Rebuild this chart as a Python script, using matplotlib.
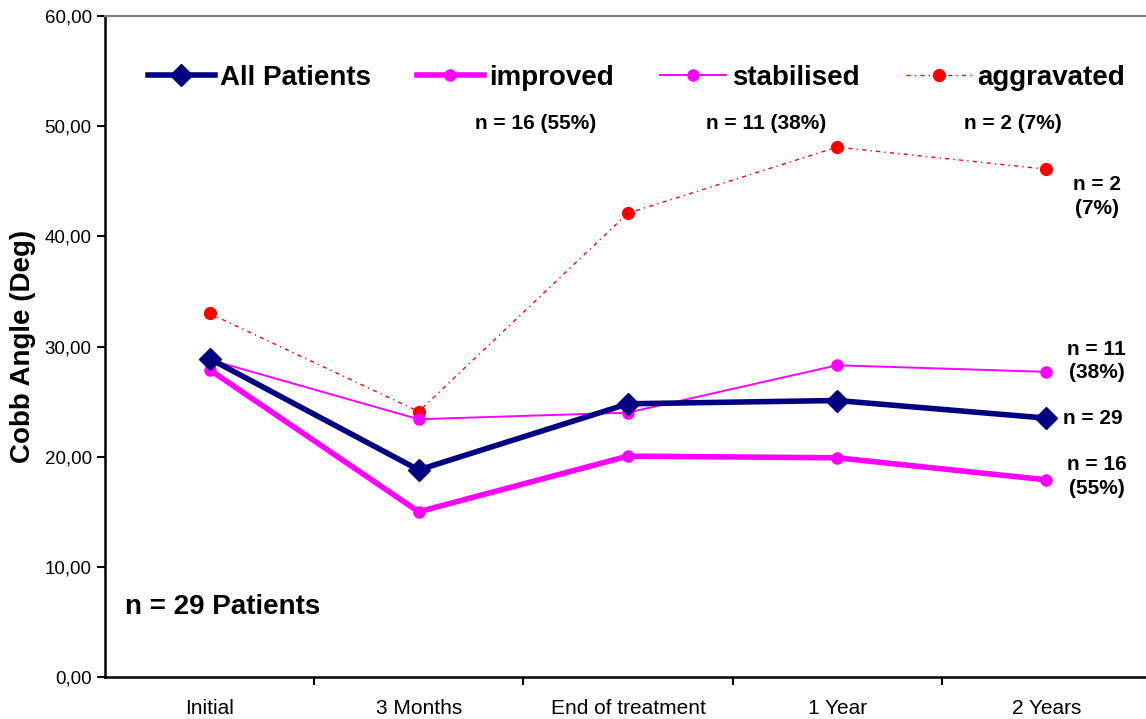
import matplotlib.pyplot as plt
from matplotlib.ticker import FixedLocator, FuncFormatter

plt.rcParams['font.family'] = ['Liberation Sans', 'DejaVu Sans']

# data
stages = ["Initial", "3 Months", "End of treatment", "1 Year", "2 Years"]
all_patients = [28.9, 18.8, 24.8, 25.1, 23.5]
improved = [27.9, 15.0, 20.05, 19.9, 17.9]
stabilised = [28.8, 23.4, 24.0, 28.3, 27.7]
aggravated = [33.0, 24.1, 42.1, 48.1, 46.1]

group_labels = ["n = 16 (55%)", "n = 11 (38%)", "n = 2 (7%)"]

fig = plt.figure(figsize=(11.46, 7.19), dpi=100)
ax = fig.add_axes([0.0916, 0.0584, 0.9127, 0.9193])

x = list(range(len(stages)))
ax.plot(x, all_patients, color='#000080', lw=4, marker='D', ms=11, label='All Patients', zorder=4)
ax.plot(x, improved, color='#ff00ff', lw=4, marker='o', ms=8, label='improved', zorder=3)
ax.plot(x, stabilised, color='#ff00ff', lw=1.4, marker='o', ms=8, label='stabilised', zorder=3)
ax.plot(x, aggravated, color='#ff0000', lw=1, dashes=(3, 3, 1, 3), marker='o', ms=8.5, label='aggravated', zorder=2)

ax.set_xlim(-0.5, 4.5)
ax.set_ylim(0, 60)
ax.set_yticks(range(0, 61, 10))
ax.yaxis.set_major_formatter(FuncFormatter(lambda v, p: f"{v:.2f}".replace('.', ',')))
ax.set_xticks(x)
ax.set_xticklabels(stages, fontsize=15)
ax.xaxis.set_minor_locator(FixedLocator([0.5, 1.5, 2.5, 3.5, 4.5]))
ax.tick_params(axis='x', which='major', length=0, pad=16)
ax.tick_params(axis='x', which='minor', length=6, width=1.5, direction='out')
ax.tick_params(axis='y', length=6, width=1.5, labelsize=13.5, direction='out')
ax.set_ylabel("Cobb Angle (Deg)", fontsize=20, fontweight='bold', labelpad=6)

for s in ['left', 'bottom']:
    ax.spines[s].set_linewidth(1.8)
    ax.spines[s].set_color('black')
for s in ['top', 'right']:
    ax.spines[s].set_linewidth(1.5)
    ax.spines[s].set_color('#808080')

leg = ax.legend(loc='center left', bbox_to_anchor=(0.0411, 0.906), ncol=4, frameon=False,
                prop={'weight': 'bold', 'size': 20}, handlelength=2.4, handletextpad=0.2,
                columnspacing=1.65, borderpad=0, borderaxespad=0)

for xpos, t in zip([1.56, 2.66, 3.84], group_labels):
    ax.text(xpos, 50.2, t, fontsize=15, fontweight='bold', ha='center', va='center')

ax.text(4.24, 43.6, "n = 2\n(7%)", fontsize=15, fontweight='bold', ha='center', va='center', linespacing=1.3)
ax.text(4.24, 28.7, "n = 11\n(38%)", fontsize=15, fontweight='bold', ha='center', va='center', linespacing=1.3)
ax.text(4.08, 23.5, "n = 29", fontsize=15, fontweight='bold', ha='left', va='center')
ax.text(4.24, 18.2, "n = 16\n(55%)", fontsize=15, fontweight='bold', ha='center', va='center', linespacing=1.3)

ax.text(-0.404, 6.35, "n = 29 Patients", fontsize=20, fontweight='bold', ha='left', va='center')

fig.savefig('out.png', dpi=100)
